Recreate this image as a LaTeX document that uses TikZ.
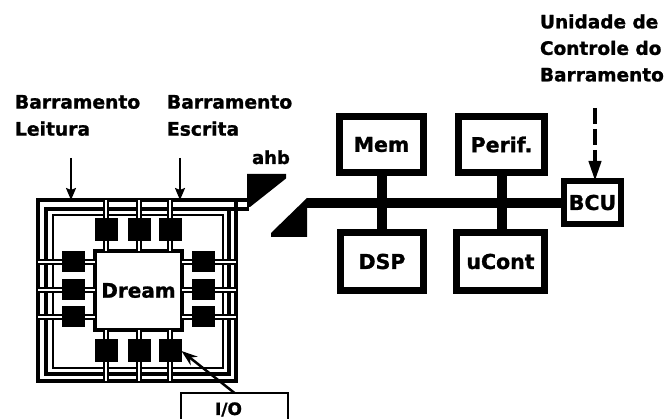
\documentclass[tikz,border=0pt]{standalone}
\usepackage{fontspec}
\setsansfont{DejaVu Sans}[BoldFeatures={FakeBold=1.2}]
\usetikzlibrary{arrows.meta}
\begin{document}
\begin{tikzpicture}[x=1pt,y=-1pt,
  blk/.style={draw, line width=6.5pt, inner sep=0pt, outer sep=0pt,
    font=\sffamily\bfseries\fontsize{20.5}{24}\selectfont},
  frame/.style={draw, inner sep=0pt, outer sep=0pt},
  pad/.style={fill=black, draw=none, minimum width=23pt, minimum height=23pt, inner sep=0pt, outer sep=0pt},
  padv/.style={pad, minimum width=23pt, minimum height=21pt},
  bus/.style={line width=10pt},
  padline/.style={double, double distance=2.2pt, line width=1.6pt},
  lbl/.style={font=\sffamily\bfseries\fontsize{18.7}{27}\selectfont, align=left, inner sep=0pt, outer sep=0pt, anchor=north west},
  thinarrow/.style={line width=2pt, -{Stealth[length=12pt,width=10pt,inset=2pt]}}
]
\useasboundingbox (0,0) rectangle (667,419);
\clip (0,0) rectangle (667,419);
\fill[white] (0,0) rectangle (667,419);

% labels
\node[lbl] (lblL) at (15,95) {Barramento\\Leitura};
\node[lbl] (lblE) at (167,95) {Barramento\\Escrita};
\node[lbl, font=\sffamily\bfseries\fontsize{18.5}{26.5}\selectfont] (lblU) at (540,14.3) {Unidade de\\Controle do\\Barramento};
\node[font=\sffamily\bfseries\fontsize{18}{22}\selectfont, anchor=base, inner sep=0pt] (ahb) at (271,164) {ahb};

% chip frames
\node[frame, line width=4.5pt, minimum width=198pt, minimum height=181pt] (outer) at (137,290.5) {};
\node[frame, line width=3.6pt, minimum width=183pt, minimum height=165pt] (mid) at (137.5,291.5) {};
\node[frame, line width=1.2pt, minimum width=170pt, minimum height=153pt] (inner) at (138,291.5) {};

% Dream core
\node[frame, line width=4pt, minimum width=87pt, minimum height=79pt,
  font=\sffamily\bfseries\fontsize{20}{24}\selectfont] (dream) at (138.5,290.5) {Dream};

% pads
\node[pad] (pt1) at (106,230) {};
\node[pad] (pt2) at (139,230) {};
\node[pad] (pt3) at (170,230) {};
\node[pad] (pb1) at (106,351) {};
\node[pad] (pb2) at (139,351) {};
\node[pad] (pb3) at (170,351) {};
\node[padv] (pl1) at (73.5,262) {};
\node[padv] (pl2) at (73.5,290) {};
\node[padv] (pl3) at (73.5,317) {};
\node[padv] (pr1) at (203.5,262) {};
\node[padv] (pr2) at (203.5,290) {};
\node[padv] (pr3) at (203.5,317) {};

\foreach \p in {pt1,pt2,pt3}{
  \draw[padline] (\p.north) -- (\p.north |- outer.north);
  \draw[padline] (\p.south) -- (\p.south |- dream.north);
}
\foreach \p in {pb1,pb2,pb3}{
  \draw[padline] (\p.south) -- (\p.south |- outer.south);
  \draw[padline] (\p.north) -- (\p.north |- dream.south);
}
\foreach \p in {pl1,pl2,pl3}{
  \draw[padline] (\p.west) -- (\p.west -| outer.west);
  \draw[padline] (\p.east) -- (\p.east -| dream.west);
}
\foreach \p in {pr1,pr2,pr3}{
  \draw[padline] (\p.east) -- (\p.east -| outer.east);
  \draw[padline] (\p.west) -- (\p.west -| dream.east);
}

% lines from chip to ahb bridge
\coordinate (ahbA) at (249,200);
\draw[line width=4.5pt] (outer.north east) -- (ahbA);
\draw[line width=3.6pt] (mid.north east) -- (ahbA |- mid.north east);

% ahb bridge shapes
\fill (247,174) -- (286,174) -- (286,178.5) -- (250,207) -- (247,207) -- cycle;
\fill (307,198) -- (307,237) -- (271,237) -- (271,233) -- cycle;

% right-hand blocks
\node[blk, minimum width=84pt, minimum height=56pt] (mem) at (381.5,144.5) {Mem};
\node[blk, minimum width=83pt, minimum height=58pt] (dsp) at (382,261.5) {DSP};
\node[blk, minimum width=86pt, minimum height=56pt] (perif) at (501.5,144.5) {Perif.};
\node[blk, minimum width=88pt, minimum height=58pt] (ucont) at (500.5,261.5) {uCont};
\node[blk, line width=6pt, minimum width=57pt, minimum height=43pt] (bcu) at (592.5,202.5) {BCU};

\coordinate (busL) at (307,203);
\draw[bus] (busL) -- (busL -| bcu.west);
\draw[bus] (mem.south) -- (mem.south |- dsp.north);
\draw[bus] (perif.south) -- (perif.south |- ucont.north);

% control unit dashed arrow
\coordinate (ctop) at (595,108);
\draw[line width=4pt, dash pattern=on 16pt off 5pt, -{Triangle[length=20pt,width=12pt]}] (ctop) -- (ctop |- bcu.north);

% bus label arrows
\coordinate (aL) at (71,158);
\coordinate (aE) at (180,158);
\draw[thinarrow] (aL) -- (aL |- outer.north);
\draw[thinarrow] (aE) -- (aE |- outer.north);

% I/O box
\node[draw, line width=2.5pt, minimum width=107pt, inner sep=0pt, outer sep=0pt, anchor=north,
  text height=22pt, text depth=20pt, font=\sffamily\bfseries\fontsize{17}{20}\selectfont] (io) at (234.5,393) {I/O\kern12pt};
\draw[line width=2.5pt, -{Stealth[length=16pt,width=11pt]}] (io.north) -- (pb3.east);
\end{tikzpicture}
\end{document}
